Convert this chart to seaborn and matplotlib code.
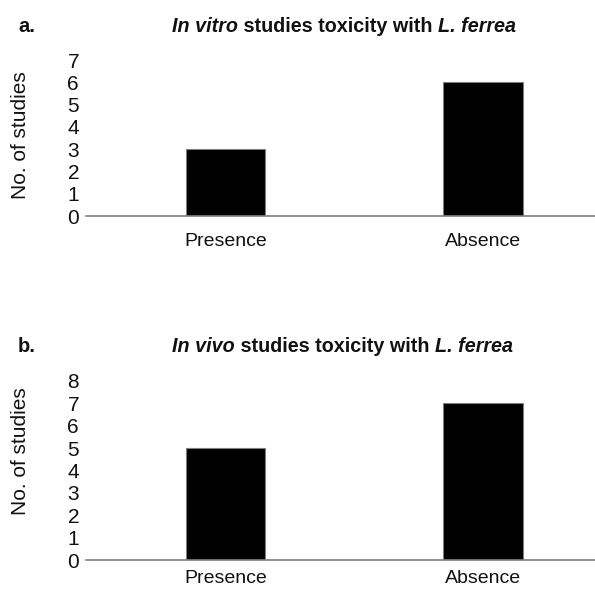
import matplotlib
matplotlib.use("Agg")
import matplotlib.pyplot as plt
import seaborn as sns
import pandas as pd

categories = ["Presence", "Absence"]
in_vitro_counts = [3, 6]
in_vivo_counts = [5, 7]
in_vitro_ticks = [0, 1, 2, 3, 4, 5, 6, 7]
in_vivo_ticks = [0, 1, 2, 3, 4, 5, 6, 7, 8]

sns.set_theme(style="white")
plt.rcParams["font.family"] = ["Liberation Sans", "DejaVu Sans"]

W, H = 595, 592
fig = plt.figure(figsize=(W / 100, H / 100), dpi=100)


def px_axes(left, top, right, bottom):
    return fig.add_axes([left / W, 1 - bottom / H, (right - left) / W, (bottom - top) / H])


ax_a = px_axes(86, 60, 595, 216)
ax_b = px_axes(86, 381, 595, 560)


def draw(ax, values, ticks, label, title_parts, title_y, xpad, ylab_y):
    df = pd.DataFrame({"category": categories, "count": values})
    sns.barplot(data=df, x="category", y="count", ax=ax, color="black",
                width=0.31, edgecolor="#7f7f7f", linewidth=0.8, saturation=1)
    ax.set_ylim(0, ticks[-1])
    ax.set_xlim(-0.542, 1.435)
    ax.set_yticks(ticks)
    ax.set_yticklabels([str(t) for t in ticks], fontsize=15, color="#111111")
    ax.tick_params(axis="y", length=0, pad=5)
    ax.tick_params(axis="x", length=0, pad=xpad, labelsize=14, labelcolor="#111111")
    ax.set_xlabel("")
    ax.set_ylabel("No. of studies", fontsize=15, color="#111111")
    ax.yaxis.set_label_coords((30 - 86) / 509, ylab_y)
    for s in ["top", "right", "left"]:
        ax.spines[s].set_visible(False)
    ax.spines["bottom"].set_color("#808080")
    ax.spines["bottom"].set_linewidth(1.2)
    ax.patch.set_alpha(0)

    fig.text(18 / W, 1 - title_y / H, label, fontsize=14.5, fontweight="bold",
             color="#111111", va="baseline", ha="left")
    # title built from pieces with different styles
    x0 = 172
    t = fig.text(x0 / W, 1 - title_y / H, title_parts[0][0], fontsize=14.25,
                 fontweight="bold", fontstyle=title_parts[0][1],
                 color="#111111", va="baseline", ha="left")
    for txt, style in title_parts[1:]:
        t = ax.annotate(txt, xy=(1, 0), xycoords=t, xytext=(0, 0),
                        textcoords="offset points", fontsize=14.25,
                        fontweight="bold", fontstyle=style, color="#111111",
                        va="bottom", ha="left", annotation_clip=False)


draw(ax_a, in_vitro_counts, in_vitro_ticks, "a.",
     [("In vitro", "italic"), (" studies toxicity with ", "normal"), ("L. ferrea", "italic")],
     32, 12, 0.52)
draw(ax_b, in_vivo_counts, in_vivo_ticks, "b.",
     [("In vivo", "italic"), (" studies toxicity with ", "normal"), ("L. ferrea", "italic")],
     352, 7.5, 0.61)

fig.savefig("out.png", dpi=100)
